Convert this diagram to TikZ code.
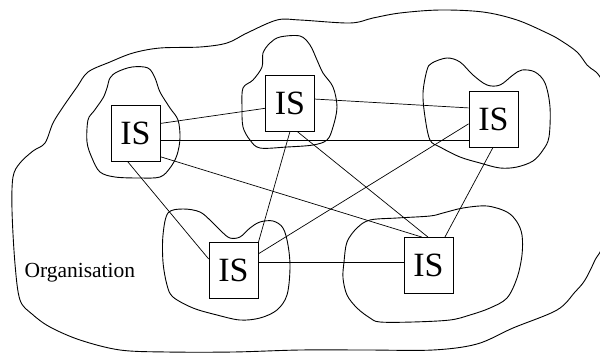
\documentclass[tikz,border=0pt]{standalone}
\usepackage{fontspec}
\setmainfont{Liberation Serif}
\begin{document}
\begin{tikzpicture}[x=1pt,y=-1pt,
  isbox/.style={draw, line width=0.8pt, minimum width=49pt, minimum height=56pt, inner sep=0pt, font=\fontsize{34}{40}\selectfont},
  blob/.style={draw, line width=0.9pt},
  link/.style={draw, line width=0.7pt},
  lbl/.style={inner sep=0pt, font=\fontsize{21.5}{25}\selectfont}]
\useasboundingbox (0,0) rectangle (600,354);
\clip (0,0) rectangle (600,354);
% outer organisation blob
\path[blob] plot[smooth cycle, tension=0.55] coordinates {
 (277,20) (300,20) (350,23) (373,18) (400,13) (440,10) (483,12) (517,20)
 (547,33) (560,40) (577,52) (587,65) (603,85) (607,160) (603,240) (595,260)
 (585,280) (575,292) (557,310) (513,328) (477,344) (433,350) (367,350)
 (300,350) (233,352) (167,352) (120,350) (80,340) (50,327) (32,314)
 (20,300) (15,264) (12,210) (13,177) (20,163) (33,151) (45,143) (53,123)
 (63,107) (77,87) (88,72) (110,62) (133,53) (160,48) (200,47) (227,43) (247,33)};
% blob A
\path[blob] plot[smooth cycle, tension=0.55] coordinates {
 (132,67) (148,68) (155,78) (160,92) (170,108) (178,120) (180,138) (177,155)
 (170,168) (160,177) (140,178) (115,177) (100,172) (92,158) (87,142) (88,120)
 (94,111) (103,98) (107,88) (110,78) (117,72)};
% blob B
\path[blob] plot[smooth cycle, tension=0.55] coordinates {
 (280,37) (300,36) (310,45) (317,60) (323,73) (333,87) (337,107) (333,127)
 (327,140) (313,145) (287,147) (260,148) (250,140) (243,127) (242,107)
 (243,88) (253,80) (262,67) (263,53) (270,43)};
% blob C
\path[blob] plot[smooth cycle, tension=0.55] coordinates {
 (432,63) (447,58) (460,62) (473,75) (487,85) (500,85) (513,75) (522,70)
 (535,72) (545,83) (550,107) (549,137) (543,150) (533,161) (517,167)
 (500,168) (480,163) (460,157) (440,147) (430,140) (425,117) (423,93) (427,70)};
% blob D
\path[blob] plot[smooth cycle, tension=0.55] coordinates {
 (168,213) (183,209) (200,212) (212,222) (222,232) (230,238) (240,237)
 (250,228) (260,222) (273,221) (283,228) (288,245) (290,268) (287,295)
 (277,310) (260,318) (240,320) (217,315) (193,308) (173,297) (167,285)
 (163,262) (163,235)};
% blob E
\path[blob] plot[smooth cycle, tension=0.55] coordinates {
 (370,220) (397,218) (430,216) (443,213) (463,208) (487,206) (507,212)
 (517,222) (522,235) (522,255) (517,278) (507,298) (490,308) (470,315)
 (450,320) (413,322) (380,322) (370,318) (357,308) (347,295) (343,278)
 (344,262) (347,242) (357,228)};
% IS boxes
\node[isbox] (A) at (135.5,133.5) {IS};
\node[isbox] (B) at (290,103) {IS};
\node[isbox] (C) at (493.5,119) {IS};
\node[isbox] (D) at (233.5,270) {IS};
\node[isbox] (E) at (428.5,265.5) {IS};
\node[lbl, anchor=base west] (org) at (24.3,277) {Organisation};
% connections
\path[link] (A.22) -- (B.192);
\path[link] (A.-15) -- (A.-15 -| C.west);
\path[link] (A.-105) -- (D.156);
\path[link] (A.-43) -- (E.103);
\path[link] (B.9.5) -- (C.156);
\path[link] (B.south) -- (D.48);
\path[link] (B.-76) -- (E.91);
\path[link] (C.191.5) -- (D.33);
\path[link] (C.269) -- (E.60);
\path[link] (D.18) -- (D.18 -| E.west);
\end{tikzpicture}
\end{document}
